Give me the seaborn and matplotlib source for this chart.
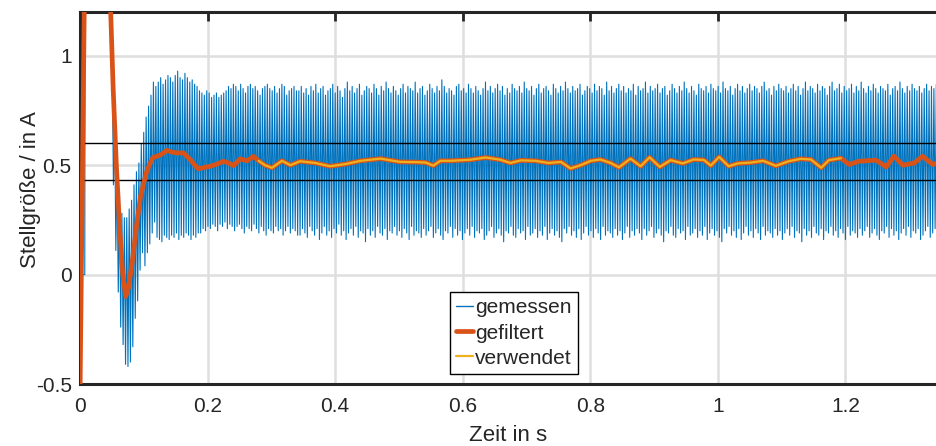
import numpy as np
import pandas as pd
import matplotlib
matplotlib.use("Agg")
import matplotlib.pyplot as plt
from matplotlib.lines import Line2D
import seaborn as sns

# --- Messsignal (gemessen) ---------------------------------------------
# Vorlauf: Stellgröße bei 0, danach Sättigung oberhalb des Achsenbereichs
t_vorlauf = [0.0, 0.0075, 0.0080, 0.0470]
i_vorlauf = [0.0, 0.0, 1.6, 1.6]

# Abtastraster des oszillierenden Signals
t_abtast_start = 0.0505
dt_abtast = 0.0019

# Anlauf (alternierend oben/unten)
i_anlauf = [0.97, 0.41, 0.74, 0.11, 0.49, -0.08, 0.375, -0.24, 0.28, -0.32,
            0.26, -0.41, 0.26, -0.42, 0.30, -0.40, 0.34, -0.33, 0.41, -0.20,
            0.47, -0.12, 0.51, 0.02, 0.60, 0.10, 0.65, 0.04, 0.72, 0.10,
            0.77, 0.14, 0.82, 0.19, 0.88, 0.24]

# eingeschwungen: obere Spitzenwerte
i_oben = [
    0.86, 0.88, 0.90, 0.87, 0.89, 0.91, 0.90, 0.88, 0.91, 0.93,
    0.90, 0.89, 0.92, 0.90, 0.88, 0.89, 0.87, 0.86,
    0.84, 0.83, 0.82, 0.84, 0.83, 0.81, 0.82, 0.83, 0.81, 0.82, 0.83, 0.84,
    0.86, 0.85, 0.87, 0.86, 0.84, 0.87, 0.85, 0.83, 0.86, 0.87,
    0.85, 0.86, 0.84, 0.82, 0.85, 0.86, 0.87, 0.85, 0.84, 0.86,
    0.83, 0.85, 0.87, 0.86, 0.82, 0.84, 0.85, 0.86, 0.84,
    0.84, 0.86, 0.83, 0.85, 0.82, 0.86, 0.84, 0.87, 0.83, 0.85,
    0.86, 0.82, 0.84, 0.85, 0.87, 0.83, 0.86, 0.84, 0.81, 0.85,
    0.88, 0.84, 0.86, 0.83, 0.85, 0.87, 0.82, 0.84, 0.86, 0.85,
    0.83, 0.87, 0.85, 0.82, 0.86, 0.84, 0.88, 0.85, 0.83, 0.86,
    0.84, 0.82, 0.85, 0.87, 0.83, 0.86, 0.85, 0.84, 0.88, 0.83,
    0.85, 0.86, 0.82, 0.84, 0.87, 0.85, 0.83, 0.86, 0.84, 0.89,
    0.86, 0.83, 0.85, 0.84, 0.82, 0.86, 0.87, 0.84, 0.85, 0.83,
    0.87, 0.85, 0.83, 0.86, 0.84, 0.82, 0.85, 0.88, 0.84, 0.86,
    0.83, 0.85, 0.87, 0.84, 0.86, 0.82, 0.85, 0.83, 0.87, 0.85,
    0.84, 0.86, 0.83, 0.88, 0.85, 0.84, 0.86, 0.82, 0.85, 0.87,
    0.83, 0.85, 0.86, 0.84, 0.82, 0.87, 0.85, 0.83, 0.86, 0.84,
    0.88, 0.85, 0.83, 0.86, 0.84, 0.85, 0.87, 0.82, 0.84, 0.86,
    0.85, 0.83, 0.87, 0.84, 0.86, 0.85, 0.82, 0.88, 0.84, 0.86,
    0.83, 0.85, 0.87, 0.84, 0.86, 0.83, 0.85, 0.84, 0.87, 0.82,
    0.86, 0.84, 0.85, 0.88, 0.83, 0.86, 0.84, 0.85, 0.87, 0.83,
    0.85, 0.86, 0.82, 0.84, 0.87, 0.85, 0.83, 0.86, 0.84, 0.88,
    0.85, 0.83, 0.86, 0.84, 0.82, 0.87, 0.85, 0.84, 0.86, 0.83,
    0.87, 0.85, 0.84, 0.86, 0.83, 0.88, 0.85, 0.84, 0.86, 0.82,
    0.85, 0.87, 0.84, 0.86, 0.83, 0.85, 0.87, 0.84, 0.86, 0.85,
    0.83, 0.86, 0.88, 0.84, 0.85, 0.82, 0.86, 0.84, 0.87, 0.85,
    0.84, 0.86, 0.83, 0.85, 0.87, 0.84, 0.86, 0.82, 0.85, 0.88,
    0.84, 0.86, 0.85, 0.83, 0.87, 0.84, 0.86, 0.85, 0.82, 0.86,
    0.88, 0.84, 0.85, 0.87, 0.83, 0.86, 0.84, 0.85, 0.87, 0.83,
    0.86, 0.84, 0.88, 0.85, 0.83, 0.86, 0.84, 0.87, 0.85, 0.83,
    0.86, 0.85, 0.84, 0.87, 0.82, 0.85, 0.86, 0.84, 0.88, 0.85,
    0.83, 0.86, 0.84, 0.87, 0.85, 0.84, 0.86, 0.83, 0.85, 0.87,
    0.84, 0.86, 0.85, 0.87]

# eingeschwungen: untere Spitzenwerte
i_unten = [
    0.17, 0.16, 0.15, 0.18, 0.17, 0.16, 0.18, 0.17, 0.19, 0.16,
    0.18, 0.17, 0.19, 0.18, 0.16, 0.18, 0.17, 0.19,
    0.19, 0.21, 0.20, 0.22, 0.21, 0.23, 0.22, 0.20, 0.23, 0.22,
    0.24, 0.21, 0.23, 0.22, 0.20, 0.22, 0.23, 0.21, 0.19, 0.22,
    0.21, 0.20, 0.23, 0.21, 0.19, 0.22, 0.20, 0.18, 0.21, 0.20,
    0.19, 0.22, 0.20, 0.21, 0.18, 0.20, 0.22, 0.19, 0.21, 0.20, 0.18,
    0.18, 0.21, 0.19, 0.17, 0.22, 0.20, 0.18, 0.21, 0.16, 0.19,
    0.22, 0.18, 0.20, 0.17, 0.21, 0.19, 0.23, 0.18, 0.20, 0.16,
    0.19, 0.21, 0.18, 0.22, 0.17, 0.20, 0.19, 0.15, 0.21, 0.18,
    0.20, 0.17, 0.22, 0.19, 0.18, 0.21, 0.16, 0.20, 0.19, 0.22,
    0.18, 0.20, 0.17, 0.21, 0.19, 0.16, 0.22, 0.18, 0.20, 0.19,
    0.17, 0.21, 0.18, 0.20, 0.22, 0.17, 0.19, 0.21, 0.18, 0.16,
    0.20, 0.19, 0.22, 0.17, 0.21, 0.18, 0.20, 0.16, 0.19, 0.21,
    0.18, 0.22, 0.17, 0.20, 0.19, 0.21, 0.16, 0.18, 0.20, 0.22,
    0.17, 0.19, 0.21, 0.18, 0.15, 0.20, 0.19, 0.22, 0.18, 0.17,
    0.21, 0.19, 0.20, 0.16, 0.22, 0.18, 0.19, 0.21, 0.17, 0.20,
    0.18, 0.22, 0.16, 0.19, 0.21, 0.18, 0.20, 0.17, 0.15, 0.21,
    0.19, 0.22, 0.18, 0.20, 0.17, 0.21, 0.16, 0.19, 0.22, 0.18,
    0.20, 0.17, 0.21, 0.19, 0.16, 0.22, 0.18, 0.20, 0.19, 0.17,
    0.21, 0.18, 0.20, 0.16, 0.19, 0.22, 0.17, 0.20, 0.18, 0.21,
    0.19, 0.16, 0.21, 0.18, 0.20, 0.22, 0.17, 0.19, 0.21, 0.18,
    0.15, 0.20, 0.19, 0.22, 0.18, 0.17, 0.21, 0.19, 0.20, 0.16,
    0.22, 0.18, 0.19, 0.21, 0.17, 0.20, 0.18, 0.22, 0.16, 0.19,
    0.21, 0.18, 0.20, 0.17, 0.15, 0.21, 0.19, 0.22, 0.18, 0.20,
    0.17, 0.21, 0.16, 0.19, 0.22, 0.18, 0.20, 0.17, 0.21, 0.19,
    0.16, 0.22, 0.18, 0.20, 0.19, 0.17, 0.21, 0.18, 0.20, 0.16,
    0.19, 0.21, 0.18, 0.22, 0.17, 0.20, 0.19, 0.15, 0.21, 0.18,
    0.20, 0.17, 0.22, 0.19, 0.18, 0.21, 0.16, 0.20, 0.19, 0.22,
    0.18, 0.20, 0.17, 0.21, 0.19, 0.16, 0.22, 0.18, 0.20, 0.19,
    0.17, 0.21, 0.18, 0.20, 0.22, 0.17, 0.19, 0.21, 0.18, 0.16,
    0.20, 0.19, 0.22, 0.17, 0.21, 0.18, 0.20, 0.16, 0.19, 0.21,
    0.18, 0.22, 0.17, 0.20, 0.19, 0.21, 0.16, 0.18, 0.20, 0.22,
    0.17, 0.19, 0.21]

# --- gefilterte Stellgröße ----------------------------------------------
t_gefiltert = [0.0, 0.007, 0.027, 0.047, 0.052, 0.057, 0.062, 0.067, 0.0717, 0.076,
               0.082, 0.0885, 0.095, 0.104, 0.110, 0.1146, 0.120, 0.128, 0.136, 0.144,
               0.152, 0.162, 0.1727, 0.180, 0.186, 0.195, 0.204, 0.215, 0.225, 0.233,
               0.241, 0.251, 0.262, 0.272, 0.280, 0.290, 0.301, 0.3166, 0.330, 0.345,
               0.369, 0.392, 0.416, 0.440, 0.471, 0.502, 0.526, 0.542, 0.554, 0.565,
               0.581, 0.612, 0.636, 0.659, 0.675, 0.691, 0.714, 0.735, 0.754, 0.769,
               0.785, 0.801, 0.816, 0.832, 0.845, 0.863, 0.879, 0.893, 0.909, 0.926,
               0.945, 0.962, 0.978, 0.989, 1.002, 1.017, 1.031, 1.052, 1.071, 1.091,
               1.111, 1.130, 1.146, 1.162, 1.174, 1.193, 1.206, 1.221, 1.248, 1.264,
               1.276, 1.290, 1.308, 1.321, 1.337, 1.350]
i_gefiltert = [-0.55, 1.30, 2.20, 1.30, 0.85, 0.50, 0.22, 0.00, -0.10, -0.06,
               0.06, 0.22, 0.36, 0.465, 0.51, 0.535, 0.54, 0.55, 0.568, 0.56,
               0.556, 0.556, 0.526, 0.50, 0.483, 0.49, 0.495, 0.505, 0.518, 0.51,
               0.498, 0.529, 0.52, 0.54, 0.52, 0.50, 0.488, 0.52, 0.50, 0.518,
               0.51, 0.495, 0.505, 0.52, 0.53, 0.515, 0.514, 0.512, 0.498, 0.52,
               0.52, 0.525, 0.535, 0.525, 0.51, 0.522, 0.52, 0.51, 0.515, 0.485,
               0.50, 0.52, 0.526, 0.51, 0.49, 0.53, 0.495, 0.536, 0.492, 0.523,
               0.508, 0.526, 0.524, 0.498, 0.538, 0.495, 0.508, 0.512, 0.52, 0.497,
               0.518, 0.529, 0.526, 0.488, 0.523, 0.532, 0.503, 0.518, 0.523, 0.492,
               0.541, 0.50, 0.51, 0.541, 0.503, 0.515]

# Zeitfenster, in dem der gefilterte Wert verwendet wird
t_verwendet_von = 0.274
t_verwendet_bis = 1.195

# Grenzwerte (waagerechte Linien)
grenzen = [0.60, 0.43]

# Achsenbeschriftung
x_ticks = [0.0, 0.2, 0.4, 0.6, 0.8, 1.0, 1.2]
x_tick_labels = ["0", "0.2", "0.4", "0.6", "0.8", "1", "1.2"]
y_ticks = [-0.5, 0.0, 0.5, 1.0]
y_tick_labels = ["-0.5", "0", "0.5", "1"]
x_label = "Zeit in s"
y_label = "Stellgröße / in A"
legend_labels = ["gemessen", "gefiltert", "verwendet"]

# --- Daten zusammensetzen ------------------------------------------------
eingeschwungen = np.empty(len(i_oben) + len(i_unten))
eingeschwungen[0::2] = i_oben
eingeschwungen[1::2] = i_unten
i_abtast = np.concatenate([i_anlauf, eingeschwungen])
t_abtast = t_abtast_start + dt_abtast * np.arange(len(i_abtast))

gemessen = pd.DataFrame({
    "t": np.concatenate([t_vorlauf, t_abtast]),
    "i": np.concatenate([i_vorlauf, i_abtast]),
})
gefiltert = pd.DataFrame({"t": t_gefiltert, "i": i_gefiltert})
verwendet = gefiltert[(gefiltert["t"] >= t_verwendet_von) &
                      (gefiltert["t"] <= t_verwendet_bis)]

# --- Stil ----------------------------------------------------------------
sns.set_theme(style="white")
plt.rcParams["font.family"] = ["Liberation Sans", "DejaVu Sans"]

blau = "#0072BD"
orange = "#D95319"
gelb = "#EDB120"
achse = "#262626"

fig = plt.figure(figsize=(9.36, 4.46), dpi=100)
ax = fig.add_axes([80 / 936, 62 / 446, 856 / 936, 372 / 446])

sns.lineplot(data=gemessen, x="t", y="i", ax=ax, color=blau, linewidth=0.8,
             estimator=None, sort=False, legend=False, zorder=2)
for g in grenzen:
    ax.axhline(g, color="black", linewidth=1.0, zorder=3)
sns.lineplot(data=gefiltert, x="t", y="i", ax=ax, color=orange, linewidth=3.4,
             estimator=None, sort=False, legend=False, zorder=4,
             solid_capstyle="round", solid_joinstyle="round")
sns.lineplot(data=verwendet, x="t", y="i", ax=ax, color=gelb, linewidth=1.6,
             estimator=None, sort=False, legend=False, zorder=5,
             solid_joinstyle="round")

ax.set_xlim(0, 1.342)
ax.set_ylim(-0.5, 1.2)
ax.set_xticks(x_ticks)
ax.set_xticklabels(x_tick_labels)
ax.set_yticks(y_ticks)
ax.set_yticklabels(y_tick_labels)

ax.grid(True, color="#dedede", linewidth=1.8, zorder=0)
ax.set_axisbelow(True)

for side in ["left", "top", "bottom"]:
    ax.spines[side].set_visible(True)
    ax.spines[side].set_color(achse)
    ax.spines[side].set_linewidth(2.2)
ax.spines["right"].set_visible(False)

ax.tick_params(direction="in", length=6.5, width=2.0, colors=achse,
               labelsize=15, top=True, right=False, labelcolor=achse)
ax.tick_params(axis="x", pad=9)
ax.tick_params(axis="y", pad=6)

ax.set_xlabel(x_label, fontsize=16, color=achse, labelpad=7)
ax.set_ylabel(y_label, fontsize=16, color=achse)
ax.yaxis.set_label_coords(-0.045, 0.523)

handles = [Line2D([], [], color=blau, linewidth=1.0),
           Line2D([], [], color=orange, linewidth=3.4),
           Line2D([], [], color=gelb, linewidth=1.6)]
leg = ax.legend(handles, legend_labels, loc="upper left",
                bbox_to_anchor=(0.4322, 0.2473), borderaxespad=0,
                fontsize=15, frameon=True, fancybox=False,
                handlelength=0.8, handletextpad=0.1, labelspacing=0.3,
                borderpad=0.3)
leg.get_frame().set_edgecolor("black")
leg.get_frame().set_linewidth(1.0)
leg.get_frame().set_facecolor("white")
leg.get_frame().set_alpha(1.0)
leg.set_zorder(10)

fig.savefig("out.png", dpi=100)
